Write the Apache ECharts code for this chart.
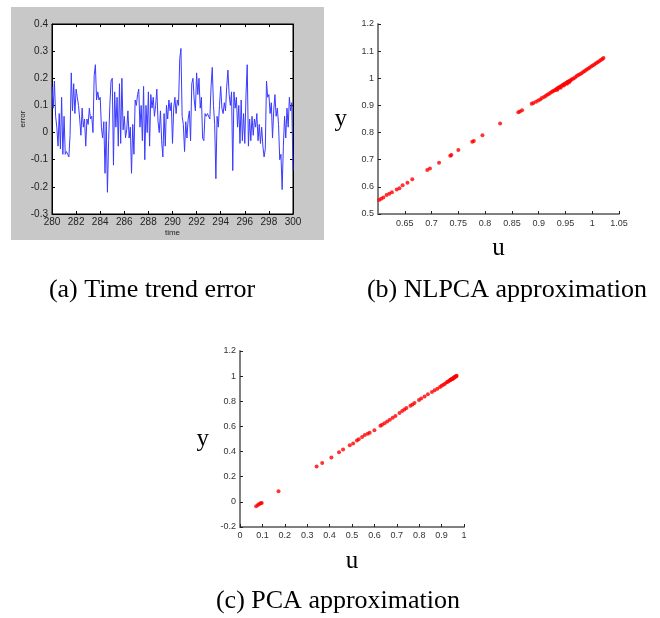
<!DOCTYPE html>
<html>
<head>
<meta charset="utf-8">
<script src="https://cdn.jsdelivr.net/npm/echarts/dist/echarts.min.js"></script>
<style>
  html, body { margin: 0; padding: 0; background: #fff; }
  #main { width: 660px; height: 618px; }
</style>
</head>
<body>
<div id="main"></div>
<script>
// (a) time trend error, sampled every 0.1 from 280 to 300
const timeStart = 280;
const timeStep = 0.1;
const errorValues = [
  0.17, 0.09, 0.19, 0.06, 0.02, -0.05, 0.07, -0.06, 0.13, -0.08,
  0.06, -0.08, -0.07, -0.08, -0.09, -0.01, 0.22, 0.08, 0.18, 0.07,
  0.16, 0.13, 0.10, 0.05, -0.01, 0.09, 0.02, 0.05, -0.05, 0.05,
  0.03, 0.09, 0.05, 0.06, 0.00, 0.21, 0.25, 0.12, 0.15, 0.12,
  0.13, 0.02, -0.02, 0.04, -0.15, 0.04, -0.22, -0.03, 0.10, 0.19,
  0.20, -0.12, 0.15, 0.02, 0.13, -0.05, 0.18, -0.04, 0.20, 0.01,
  0.06, -0.02, 0.01, 0.08, -0.02, 0.02, -0.15, 0.03, -0.08, 0.12,
  0.10, 0.14, 0.16, 0.02, 0.10, -0.03, 0.17, -0.10, 0.10, 0.00,
  0.15, -0.05, 0.14, 0.09, 0.13, 0.06, 0.10, 0.16, 0.04, 0.00,
  0.08, -0.03, -0.09, 0.07, -0.05, 0.10, 0.05, 0.12, 0.08, 0.11,
  -0.04, 0.09, 0.13, 0.07, 0.12, 0.10, 0.27, 0.31, 0.06, 0.03,
  -0.07, 0.04, -0.02, 0.05, 0.08, -0.03, 0.18, 0.20, 0.12, 0.08,
  0.22, 0.14, 0.20, 0.09, 0.13, -0.02, -0.03, 0.07, 0.06, 0.07,
  0.07, 0.05, 0.17, 0.24, 0.10, 0.03, -0.17, 0.06, 0.02, 0.10,
  0.17, 0.09, 0.07, 0.11, 0.08, 0.17, 0.23, 0.14, 0.10, 0.15,
  -0.14, 0.15, 0.09, 0.13, 0.02, 0.10, -0.04, 0.12, -0.03, 0.07,
  -0.04, 0.14, 0.25, -0.05, 0.05, -0.03, 0.06, -0.01, 0.05, 0.02,
  0.07, -0.03, 0.03, -0.04, 0.02, -0.05, -0.09, -0.06, 0.19, 0.13,
  0.14, 0.07, 0.11, -0.02, 0.08, 0.14, 0.06, 0.09, 0.03, -0.10,
  -0.08, -0.21, -0.05, 0.06, -0.02, 0.09, 0.02, 0.13, 0.08, 0.11,
  -0.14
];

// (b) NLPCA approximation: u and y
const nlpcaU = [
  0.599, 0.602, 0.606, 0.610, 0.616, 0.621, 0.626, 0.635, 0.640, 0.646, 0.655, 0.664,
  0.692, 0.697, 0.714, 0.735, 0.737, 0.750, 0.776, 0.779, 0.795, 0.828,
  0.862, 0.865, 0.869,
  0.887, 0.890, 0.895, 0.899, 0.903, 0.906, 0.910, 0.913, 0.916, 0.919, 0.922, 0.925,
  0.927, 0.930, 0.932, 0.934, 0.935, 0.936, 0.938, 0.940, 0.941, 0.942, 0.944, 0.946,
  0.947, 0.948, 0.950, 0.952, 0.953, 0.954, 0.956, 0.957, 0.958, 0.960, 0.962, 0.965,
  0.968, 0.971, 0.974, 0.977, 0.980, 0.983, 0.986, 0.989, 0.992, 0.995, 0.998, 1.001,
  1.004, 1.007, 1.010, 1.013, 1.016, 1.019, 1.021
];
const nlpcaY = [
  0.548, 0.552, 0.556, 0.561, 0.570, 0.575, 0.580, 0.590, 0.595, 0.606, 0.615, 0.628,
  0.662, 0.668, 0.689, 0.715, 0.717, 0.736, 0.766, 0.769, 0.790, 0.833,
  0.875, 0.878, 0.882,
  0.906, 0.909, 0.914, 0.918, 0.922, 0.927, 0.931, 0.935, 0.939, 0.942, 0.947, 0.950,
  0.953, 0.956, 0.958, 0.962, 0.958, 0.963, 0.967, 0.968, 0.965, 0.972, 0.973, 0.977,
  0.973, 0.978, 0.982, 0.983, 0.980, 0.987, 0.988, 0.985, 0.991, 0.993, 0.996, 0.999,
  1.003, 1.008, 1.012, 1.015, 1.019, 1.023, 1.027, 1.031, 1.035, 1.039, 1.043, 1.047,
  1.051, 1.055, 1.059, 1.063, 1.067, 1.071, 1.075
];

// (c) PCA approximation: u and y
const pcaU = [
  0.072, 0.080, 0.086, 0.092, 0.097, 0.172,
  0.342, 0.367, 0.408, 0.442, 0.460, 0.490, 0.505, 0.522, 0.530, 0.545, 0.557, 0.570,
  0.579, 0.600, 0.627, 0.634, 0.645, 0.657, 0.669, 0.682, 0.694, 0.712, 0.724, 0.734,
  0.743, 0.761, 0.770, 0.779, 0.799, 0.809, 0.824, 0.839, 0.857, 0.869, 0.881, 0.893,
  0.900, 0.908, 0.915, 0.923, 0.928, 0.934, 0.938, 0.940, 0.945, 0.945, 0.949, 0.950,
  0.954, 0.956, 0.958, 0.961, 0.963, 0.965, 0.967
];
const pcaY = [
  -0.035, -0.025, -0.017, -0.011, -0.009, 0.084,
  0.281, 0.310, 0.353, 0.395, 0.417, 0.451, 0.464, 0.488, 0.499, 0.515, 0.531, 0.541,
  0.549, 0.570, 0.605, 0.613, 0.626, 0.640, 0.653, 0.669, 0.682, 0.706, 0.722, 0.735,
  0.746, 0.764, 0.775, 0.786, 0.810, 0.823, 0.839, 0.855, 0.873, 0.887, 0.900, 0.913,
  0.924, 0.932, 0.940, 0.951, 0.956, 0.964, 0.968, 0.972, 0.975, 0.977, 0.982, 0.980,
  0.987, 0.988, 0.993, 0.995, 0.998, 0.999, 1.003
];

const captions = ['(a) Time trend error', '(b) NLPCA approximation', '(c) PCA approximation'];

const errorData = errorValues.map((v, i) => [timeStart + i * timeStep, v]);
const nlpcaData = nlpcaU.map((u, i) => [u, nlpcaY[i]]);
const pcaData = pcaU.map((u, i) => [u, pcaY[i]]);

const chart = echarts.init(document.getElementById('main'));

const tickFont = { fontFamily: 'Liberation Sans', fontSize: 9, color: '#333' };
const serifName = { fontFamily: 'Liberation Serif', fontSize: 25, color: '#000' };
const captionFont = '26px "Liberation Serif"';

// matlab style box axes for panel (a)
const boxAxis = (extra) => Object.assign({
  type: 'value',
  gridIndex: 0,
  axisLine: { show: true, onZero: false, lineStyle: { color: '#000', width: 1 } },
  axisTick: { show: true, inside: true, length: 3, lineStyle: { color: '#000' } },
  splitLine: { show: false }
}, extra);

// plain gray axes for panels (b) and (c)
const grayAxis = (extra) => Object.assign({
  type: 'value',
  axisLine: { show: true, onZero: false, lineStyle: { color: '#808080', width: 2 } },
  axisTick: { show: true, inside: true, length: 3, lineStyle: { color: '#222' } },
  axisLabel: Object.assign({ margin: 4 }, tickFont),
  splitLine: { show: false },
  nameLocation: 'middle',
  nameRotate: 0,
  nameTextStyle: serifName
}, extra);

chart.setOption({
  animation: false,
  backgroundColor: '#fff',
  graphic: [
    { type: 'rect', z: -10, shape: { x: 11, y: 7, width: 313, height: 233 }, style: { fill: '#c8c8c8' } },
    { type: 'text', x: 152, y: 290, style: { text: captions[0], font: captionFont, fill: '#000', textAlign: 'center', textVerticalAlign: 'middle' } },
    { type: 'text', x: 507, y: 290, style: { text: captions[1], font: captionFont, fill: '#000', textAlign: 'center', textVerticalAlign: 'middle' } },
    { type: 'text', x: 338, y: 601, style: { text: captions[2], font: captionFont, fill: '#000', textAlign: 'center', textVerticalAlign: 'middle' } }
  ],
  grid: [
    { left: 52, top: 24, width: 241, height: 190, show: true, backgroundColor: '#fff', borderColor: '#000', borderWidth: 1 },
    { left: 378, top: 24, width: 241, height: 190 },
    { left: 240, top: 351, width: 224, height: 176 }
  ],
  xAxis: [
    boxAxis({ min: 280, max: 300, interval: 2, position: 'bottom',
      name: 'time', nameLocation: 'middle', nameGap: 15,
      nameTextStyle: { fontFamily: 'Liberation Sans', fontSize: 8, color: '#222' },
      axisLabel: { margin: 3, fontFamily: 'Liberation Sans', fontSize: 10, color: '#222' } }),
    boxAxis({ min: 280, max: 300, interval: 2, position: 'top', axisLabel: { show: false } }),
    grayAxis({ gridIndex: 1, min: 0.6, max: 1.05, interval: 0.05, name: 'u', nameGap: 22,
      axisLabel: Object.assign({ margin: 5, showMinLabel: false }, tickFont) }),
    grayAxis({ gridIndex: 2, min: 0, max: 1, interval: 0.1, name: 'u', nameGap: 22 })
  ],
  yAxis: [
    boxAxis({ min: -0.3, max: 0.4, interval: 0.1, position: 'left',
      name: 'error', nameLocation: 'middle', nameGap: 22,
      nameTextStyle: { fontFamily: 'Liberation Sans', fontSize: 8, color: '#222' },
      axisLabel: { margin: 4, fontFamily: 'Liberation Sans', fontSize: 10, color: '#222' } }),
    boxAxis({ min: -0.3, max: 0.4, interval: 0.1, position: 'right', axisLabel: { show: false } }),
    grayAxis({ gridIndex: 1, min: 0.5, max: 1.2, interval: 0.1, name: 'y', nameGap: 31 }),
    grayAxis({ gridIndex: 2, min: -0.2, max: 1.2, interval: 0.2, name: 'y', nameGap: 31 })
  ],
  series: [
    {
      type: 'line', xAxisIndex: 0, yAxisIndex: 0, data: errorData,
      showSymbol: false, lineStyle: { color: '#3a3aff', width: 1 }
    },
    {
      type: 'scatter', xAxisIndex: 2, yAxisIndex: 2, data: nlpcaData,
      symbolSize: 4, itemStyle: { color: '#ff0000' }
    },
    {
      type: 'scatter', xAxisIndex: 3, yAxisIndex: 3, data: pcaData,
      symbolSize: 4, itemStyle: { color: '#ff0000' }
    }
  ]
});
</script>
</body>
</html>
